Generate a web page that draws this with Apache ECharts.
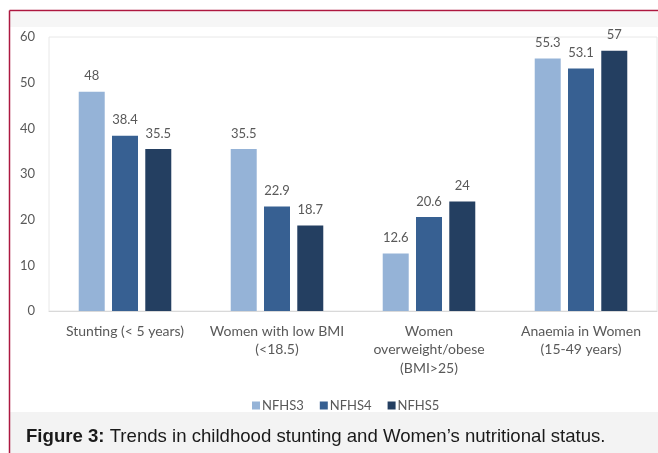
<!DOCTYPE html>
<html>
<head>
<meta charset="utf-8">
<style>
  html, body { margin: 0; padding: 0; background: #fff; }
  #chart { width: 658px; height: 453px; }
</style>
<script src="https://cdn.jsdelivr.net/npm/echarts@6/dist/echarts.min.js"></script>
</head>
<body>
<div id="chart"></div>
<script>
// Indicator groups shown along the x axis
const categories = [
  'Stunting (< 5 years)',
  'Women with low BMI\n(<18.5)',
  'Women\noverweight/obese\n(BMI>25)',
  'Anaemia in Women\n(15-49 years)'
];

// Survey rounds (percent)
const nfhs3 = [48, 35.5, 12.6, 55.3];
const nfhs4 = [38.4, 22.9, 20.6, 53.1];
const nfhs5 = [35.5, 18.7, 24, 57];

const seriesNames = ['NFHS3', 'NFHS4', 'NFHS5'];
const seriesColors = ['#95b3d7', '#376092', '#243f61'];

const captionBold = 'Figure 3:';
const captionText = ' Trends in childhood stunting and Women\u2019s nutritional status.';

const chart = echarts.init(document.getElementById('chart'), null, { renderer: 'canvas' });

const labelFont = 'Lato, "Open Sans", sans-serif';
const captionFont = '"Liberation Sans", Arial, sans-serif';

function barSeries(name, data, color) {
  return {
    name: name,
    type: 'bar',
    data: data,
    barWidth: 26,
    barGap: '28%',
    itemStyle: { color: color },
    label: {
      show: true,
      position: 'top',
      distance: 9,
      color: '#595959',
      fontFamily: labelFont,
      fontSize: 13
    }
  };
}

chart.setOption({
  animation: false,
  backgroundColor: '#ffffff',
  graphic: [
    // light strip above the plot
    { type: 'rect', z: -10, shape: { x: 10, y: 12, width: 648, height: 15 },
      style: { fill: '#f6f6f6' } },
    // caption panel
    { type: 'rect', z: -10, shape: { x: 10, y: 412, width: 648, height: 41 },
      style: { fill: '#f3f3f3' } },
    // frame lines
    { type: 'line', shape: { x1: 9.5, y1: 10.5, x2: 658, y2: 10.5 },
      style: { stroke: '#ad1840', lineWidth: 1.5 } },
    { type: 'line', shape: { x1: 9.5, y1: 10.5, x2: 9.5, y2: 453 },
      style: { stroke: '#ad1840', lineWidth: 1.5 } },
    // caption
    {
      type: 'text', left: 26, top: 427,
      style: {
        text: '{b|' + captionBold + '}{n|' + captionText + '}',
        rich: {
          b: { fontFamily: captionFont, fontSize: 18.6, fontWeight: 'bold', fill: '#1a1a1a' },
          n: { fontFamily: captionFont, fontSize: 18.6, fill: '#1a1a1a' }
        }
      }
    }
  ],
  grid: {
    left: 49, right: 1, top: 37, height: 274,
    show: true, borderColor: '#e8e8e8', borderWidth: 1, backgroundColor: '#ffffff'
  },
  legend: {
    data: seriesNames,
    left: 247, top: 394,
    itemWidth: 8, itemHeight: 8, itemGap: 16,
    icon: 'rect',
    textStyle: { color: '#595959', fontFamily: labelFont, fontSize: 13, padding: [0, 0, 0, -3] }
  },
  xAxis: {
    type: 'category',
    data: categories,
    axisLine: { lineStyle: { color: '#d9d9d9' } },
    axisTick: { show: false },
    axisLabel: {
      color: '#595959', fontFamily: labelFont, fontSize: 14,
      lineHeight: 18.5, margin: 11, interval: 0
    }
  },
  yAxis: {
    type: 'value',
    min: 0, max: 60, interval: 10,
    splitLine: { show: false },
    axisLine: { show: false },
    axisTick: { show: false },
    axisLabel: { color: '#595959', fontFamily: labelFont, fontSize: 13, margin: 14 }
  },
  series: [
    barSeries(seriesNames[0], nfhs3, seriesColors[0]),
    barSeries(seriesNames[1], nfhs4, seriesColors[1]),
    barSeries(seriesNames[2], nfhs5, seriesColors[2])
  ]
});
</script>
</body>
</html>
